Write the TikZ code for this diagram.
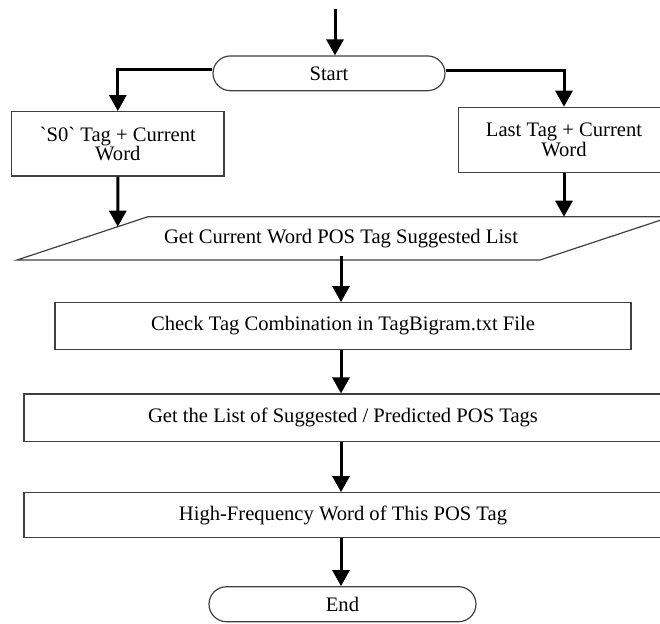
\documentclass[tikz,border=0pt]{standalone}
\usepackage{fontspec}
\setmainfont{Liberation Serif}
\usetikzlibrary{%
  arrows.meta,%
  shapes.misc,% wg. rounded rectangle
  calc%
}

\begin{document}
\begin{tikzpicture}
[x=0.5pt, y=-0.5pt, font=\fontsize{10.3}{9.8}\selectfont, line width=0.6pt,
flow/.style={line width=1.5pt, -{Triangle[length=8pt,width=8.5pt]}},
terminal/.style={rounded rectangle, draw=black!75, inner sep=0pt},
proc/.style={rectangle, draw=black!75, inner sep=0pt, align=center}]

\path[use as bounding box, clip] (0,0) rectangle (660,623);

\coordinate (in) at (335,9);
\node[terminal, minimum width=116pt, minimum height=17.35pt] (start) at (329,73.3) {Start};

\node[proc, minimum width=106.15pt, minimum height=32.15pt] (s0) at (117.8,143.8)
  {\textasciigrave S0\textasciigrave{} Tag + Current\\Word};
\node[proc, minimum width=105.7pt, minimum height=32.7pt] (last) at (564,140)
  {Last Tag + Current\\Word};

% parallelogram
\coordinate (ptl) at (148,216.7);
\coordinate (ptr) at (671,216.7);
\coordinate (pbr) at (540,260);
\coordinate (pbl) at (17,260);
\draw[draw=black!75] (ptl) -- (ptr) -- (pbr) -- (pbl) -- cycle;
\node[inner sep=0pt, minimum height=16.7pt] (getlist) at (341,238.3)
  {Get Current Word POS Tag Suggested List};

\node[proc, minimum width=288pt, minimum height=23.3pt] (check) at (343,326)
  {Check Tag Combination in TagBigram.txt File};
\node[proc, minimum width=319pt, minimum height=23.85pt] (predict) at (343,417.9)
  {Get the List of Suggested / Predicted POS Tags};
\node[proc, minimum width=319pt, minimum height=22.5pt] (highfreq) at (343,515.2)
  {High-Frequency Word of This POS Tag};
\node[terminal, minimum width=133.5pt, minimum height=17.5pt] (end) at (342.5,604.2) {End};

\draw[flow] (in) -- (start.north -| in);
\draw[flow] ([yshift=1.75pt]start.west) -| (s0.north);
\draw[flow] ([yshift=1.5pt]start.east) -| (last.north);
\draw[flow] (s0.south) -- (intersection of s0.south--s0.north and pbl--ptl);
\draw[flow] (last.south) -- (last.south |- ptl);
\draw[flow] (getlist.south) -- (getlist.south |- check.north);
\draw[flow] (check.south -| getlist) -- (predict.north -| getlist);
\draw[flow] (predict.south -| getlist) -- (highfreq.north -| getlist);
\draw[flow] (highfreq.south -| getlist) -- (end.north -| getlist);
\end{tikzpicture}
\end{document}
